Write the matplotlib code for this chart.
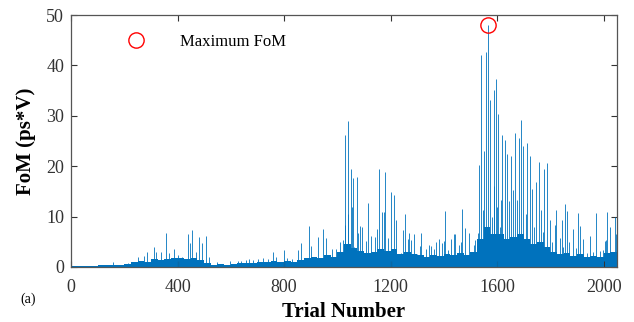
import numpy as np
import matplotlib
matplotlib.use('Agg')
import matplotlib.pyplot as plt

# FoM per trial (only the visible spikes)
spike_trial = [159, 214, 234, 253, 274, 284, 311, 318, 337, 356, 369, 388, 402, 415,
               440, 447, 455, 469, 480, 491, 507, 518, 550, 597, 628, 640, 658, 668,
               683, 701, 722, 738, 759, 771, 799, 811, 830, 853, 863, 893, 900, 928,
               947, 959, 981, 997, 1012, 1020, 1028, 1029, 1041, 1042, 1052, 1054,
               1059, 1062, 1074, 1078, 1085, 1094, 1109, 1115, 1127, 1141, 1149, 1157,
               1168, 1174, 1180, 1192, 1203, 1213, 1222, 1238, 1247, 1253, 1266, 1270,
               1277, 1288, 1301, 1310, 1316, 1332, 1344, 1353, 1363, 1372, 1382, 1395,
               1401, 1405, 1415, 1426, 1437, 1443, 1457, 1463, 1469, 1478, 1494, 1503,
               1512, 1518, 1524, 1530, 1533, 1540, 1546, 1551, 1558, 1566, 1572, 1580,
               1588, 1590, 1596, 1600, 1604, 1612, 1616, 1619, 1628, 1637, 1643, 1654,
               1660, 1667, 1675, 1684, 1691, 1699, 1707, 1714, 1722, 1732, 1740, 1747,
               1757, 1766, 1772, 1778, 1787, 1797, 1805, 1816, 1822, 1835, 1843, 1847,
               1855, 1864, 1872, 1884, 1897, 1904, 1912, 1922, 1938, 1949, 1960, 1973,
               1987, 1997, 2005, 2010, 2014, 2025, 2035, 2043, 2048]
spike_fom = [0.9, 0.7, 1.0, 1.9, 2.2, 3.0, 4.0, 3.0, 2.9, 6.8, 2.8, 3.6, 2.4, 1.9,
             6.6, 4.8, 7.4, 3.0, 6.0, 4.7, 6.1, 1.9, 1.0, 1.2, 1.1, 1.2, 1.3, 1.6,
             1.3, 1.6, 1.8, 1.6, 3.0, 1.9, 3.3, 1.8, 1.5, 3.4, 4.7, 8.2, 4.2, 5.9,
             7.5, 5.7, 3.6, 3.6, 5.0, 5.4, 8.3, 26.2, 10.5, 29.0, 19.5, 11.9,
             17.6, 4.0, 17.9, 6.8, 8.1, 8.0, 5.2, 12.6, 6.1, 6.0, 7.5, 19.5,
             10.9, 11.0, 18.9, 5.8, 14.8, 14.2, 9.3, 2.7, 7.3, 10.5, 5.5, 6.8,
             5.3, 6.6, 2.5, 4.2, 6.8, 3.5, 4.4, 4.1, 3.5, 5.0, 5.6, 4.8,
             5.2, 11.1, 3.4, 5.6, 6.6, 6.5, 4.3, 5.0, 11.5, 7.7, 6.7, 3.0,
             4.3, 5.3, 5.5, 6.8, 20.2, 42.1, 11.4, 23.0, 42.6, 48.0, 33.2, 10.0,
             16.0, 35.2, 37.3, 12.0, 30.3, 8.0, 13.3, 26.2, 25.2, 22.4, 13.0, 22.1,
             15.2, 26.6, 13.2, 25.7, 29.1, 24.0, 10.6, 24.6, 22.1, 15.4, 8.0, 16.9,
             20.8, 11.4, 7.0, 19.5, 20.7, 9.3, 5.0, 8.3, 11.3, 5.8, 9.3, 4.0,
             12.5, 11.1, 5.0, 7.5, 3.7, 10.8, 8.1, 5.5, 2.7, 6.2, 3.0, 10.7,
             3.2, 3.3, 5.2, 5.4, 11.0, 8.0, 3.0, 10.0, 6.6]

# typical level of the dense low bars, per 25 trials
base_start = list(range(0, 2050, 25))
base_fom = [0.2, 0.2, 0.25, 0.25, 0.3, 0.3, 0.4, 0.4, 0.6, 0.9,
            1.2, 1.0, 1.5, 1.3, 1.5, 1.7, 1.8, 1.6, 1.8, 1.4,
            0.8, 0.4, 0.5, 0.4, 0.6, 0.7, 0.8, 0.8, 0.9, 1.0,
            1.1, 0.9, 1.2, 0.9, 1.3, 1.8, 2.0, 1.8, 2.3, 2.0,
            3.0, 4.5, 3.8, 3.2, 2.8, 3.0, 3.5, 3.2, 3.5, 2.6,
            3.0, 2.6, 2.3, 2.0, 2.4, 2.2, 2.6, 2.3, 2.8, 2.4,
            3.0, 5.5, 8.0, 6.5, 6.5, 5.5, 6.0, 6.5, 5.5, 4.5,
            5.0, 4.0, 3.0, 2.6, 2.8, 2.2, 2.6, 2.0, 2.2, 2.0,
            2.8, 3.0]

max_trial = 1566
max_fom = 48.0

blue = '#0072BD'
plt.rcParams['font.family'] = ['Liberation Serif', 'DejaVu Serif']

fig = plt.figure(figsize=(6.34, 3.22), dpi=100)
ax = fig.add_axes([0.112, 0.171, 0.861, 0.782])

edges = np.append(base_start, 2050)
ax.stairs(base_fom, edges, fill=True, color=blue, linewidth=0)
ax.vlines(spike_trial, 0, spike_fom, color=blue, linewidth=0.6)

ax.plot(max_trial, max_fom, 'o', mfc='none', mec='red', ms=11, mew=1.0,
        label='Maximum FoM')

ax.set_xlim(0, 2050)
ax.set_ylim(0, 50)
ax.set_xticks([0, 400, 800, 1200, 1600, 2000])
ax.set_yticks([0, 10, 20, 30, 40, 50])
ax.tick_params(direction='in', top=True, right=True, length=4, width=0.8,
               labelsize=13, colors='#333333')
ax.tick_params(axis='x', pad=9)
ax.tick_params(axis='y', pad=5)
for s in ax.spines.values():
    s.set_color('#555555')
    s.set_linewidth(0.9)

ax.set_xlabel('Trial Number', fontsize=15, fontweight='bold', labelpad=4)
ax.set_ylabel('FoM (ps*V)', fontsize=15, fontweight='bold', labelpad=7)

ax.legend(loc='center', bbox_to_anchor=(0.226, 0.893), frameon=False,
          fontsize=12, handlelength=4.0, handletextpad=0.6)

fig.text(0.032, 0.06, '(a)', fontsize=10)

fig.savefig('out.png', dpi=100)
